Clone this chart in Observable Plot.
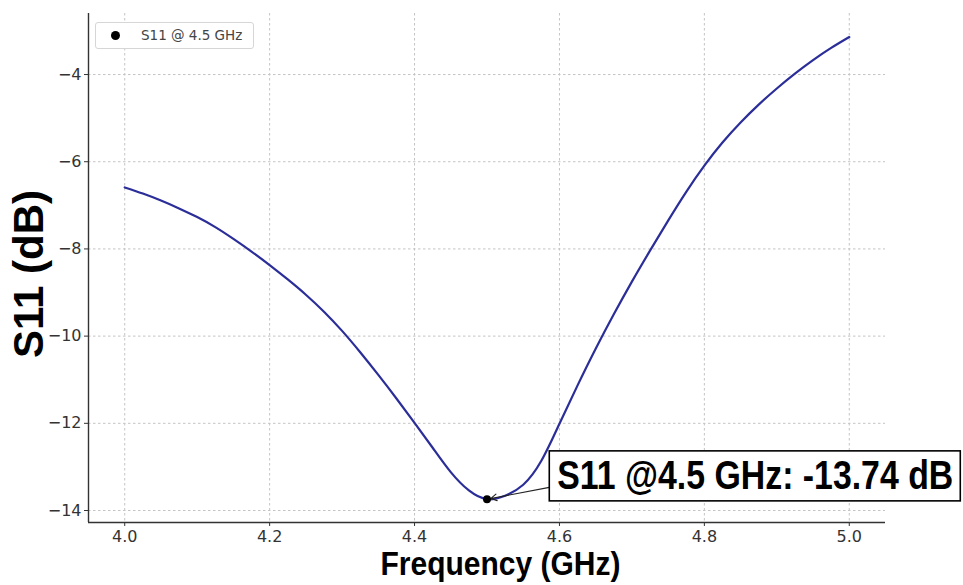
<!DOCTYPE html>
<html>
<head>
<meta charset="utf-8">
<script src="https://cdn.jsdelivr.net/npm/d3@7"></script>
<script src="https://cdn.jsdelivr.net/npm/@observablehq/plot@0.6"></script>
<style>
  body { margin: 0; background: #fff; }
  #wrap { position: relative; width: 963px; height: 585px; overflow: hidden; }
  #legend { position: absolute; left: 95px; top: 22px; width: 159px; height: 27px; box-sizing: border-box;
            border: 1px solid #d6d6d6; border-radius: 3px; background: #fff;
            font: 13.5px "DejaVu Sans", sans-serif; color: #444; }
  #legend .dot { position: absolute; left: 15px; top: 8px; width: 9px; height: 9px; border-radius: 50%; background: #000; }
  #legend .lab { position: absolute; left: 45px; top: 4px; white-space: nowrap; }
</style>
</head>
<body>
<div id="wrap">
  <div id="chart"></div>
  <div id="legend"><span class="dot"></span><span class="lab">S11 @ 4.5 GHz</span></div>
</div>
<script>
// ---- data ----
const freq = [4.000, 4.025, 4.050, 4.075, 4.100, 4.125, 4.150, 4.175, 4.200, 4.225,
              4.250, 4.275, 4.300, 4.325, 4.350, 4.375, 4.400, 4.425, 4.450, 4.475,
              4.500, 4.525, 4.550, 4.575, 4.600, 4.625, 4.650, 4.675, 4.700, 4.725,
              4.750, 4.775, 4.800, 4.825, 4.850, 4.875, 4.900, 4.925, 4.950, 4.975, 5.000];
const s11  = [-6.59, -6.73, -6.89, -7.07, -7.27, -7.50, -7.77, -8.06, -8.37, -8.70,
              -9.05, -9.44, -9.88, -10.37, -10.89, -11.43, -11.99, -12.56, -13.12, -13.54,
              -13.74, -13.66, -13.41, -12.86, -12.01, -11.13, -10.29, -9.50, -8.75, -8.04,
              -7.35, -6.69, -6.09, -5.56, -5.10, -4.69, -4.32, -3.98, -3.67, -3.39, -3.14];
const markerFreq = [4.5];
const markerS11  = [-13.74];
const annotText  = ["S11 @4.5 GHz: -13.74 dB"];
const annotTextX = [4.597];
const annotTextY = [-13.21];
const arrowFromX = [4.586];
const arrowFromY = [-13.47];
const xTicks = [4.0, 4.2, 4.4, 4.6, 4.8, 5.0];
const yTicks = [-14, -12, -10, -8, -6, -4];
const xDomain = [3.95, 5.05];
const yDomain = [-14.275, -2.6];
const xLabel = "Frequency (GHz)";
const yLabel = "S11 (dB)";

const curve = freq.map((f, i) => ({f, v: s11[i]}));
const marker = markerFreq.map((f, i) => ({f, v: markerS11[i]}));
const annot = annotText.map((t, i) => ({t, x: annotTextX[i], y: annotTextY[i],
  x1: arrowFromX[i], y1: arrowFromY[i], x2: markerFreq[i], y2: markerS11[i]}));

const minus = d => (d < 0 ? "\u2212" + Math.abs(d) : String(d));
const tickFont = "'DejaVu Sans', sans-serif";
const boldFont = "'Liberation Sans', Arial, sans-serif";

const plot = Plot.plot({
  width: 963, height: 585,
  marginLeft: 88, marginRight: 78, marginTop: 13, marginBottom: 63,
  style: {background: "#fff", overflow: "visible"},
  x: {domain: xDomain},
  y: {domain: yDomain},
  marks: [
    Plot.gridX(xTicks, {stroke: "#c4c4c4", strokeOpacity: 1, strokeDasharray: "2.5,2.5"}),
    Plot.gridY(yTicks, {stroke: "#c4c4c4", strokeOpacity: 1, strokeDasharray: "2.5,2.5"}),
    Plot.axisX(xTicks, {tickFormat: d => d.toFixed(1), tickSize: 4, tickPadding: 4, fontSize: 16,
      fontFamily: tickFont, color: "#333", label: null}),
    Plot.axisY(yTicks, {tickFormat: minus, tickSize: 4, tickPadding: 3, fontSize: 16,
      fontFamily: tickFont, color: "#333", label: null}),
    Plot.ruleX([xDomain[0]], {stroke: "#333", strokeWidth: 1.4}),
    Plot.ruleY([yDomain[0]], {stroke: "#333", strokeWidth: 1.4}),
    Plot.line(curve, {x: "f", y: "v", stroke: "#2b2e98", strokeWidth: 2.2, curve: "natural"}),
    Plot.arrow(annot, {x1: "x1", y1: "y1", x2: "x2", y2: "y2", stroke: "#222", strokeWidth: 1.1,
      headLength: 9, insetEnd: 4, bend: 0}),
    Plot.dot(marker, {x: "f", y: "v", r: 4, fill: "#000"}),
    Plot.text(annot, {x: "x", y: "y", text: "t", textAnchor: "start", lineAnchor: "middle", fontSize: 40,
      fontWeight: "bold", fontFamily: boldFont, fill: "#000"}),
    Plot.text([xLabel], {frameAnchor: "bottom", textAnchor: "middle", lineAnchor: "middle", dy: 42, dx: 13.5,
      fontSize: 34, fontWeight: "bold", fontFamily: boldFont, fill: "#000"}),
    Plot.text([yLabel], {frameAnchor: "left", textAnchor: "middle", lineAnchor: "middle", rotate: -90,
      dx: -59, dy: 6, fontSize: 42, fontWeight: "bold", fontFamily: boldFont, fill: "#000"})
  ]
});
document.getElementById("chart").appendChild(plot);

// condense the wide bold texts and frame the annotation
const svg = d3.select(plot);
svg.selectAll("text").each(function() {
  const s = this.textContent;
  if (s === annotText[0]) {
    this.setAttribute("textLength", 396);
    this.setAttribute("lengthAdjust", "spacingAndGlyphs");
    const bb = this.getBBox();
    const r = document.createElementNS("http://www.w3.org/2000/svg", "rect");
    r.setAttribute("x", bb.x - 8);
    r.setAttribute("y", bb.y - 2);
    r.setAttribute("width", bb.width + 15);
    r.setAttribute("height", bb.height + 6);
    r.setAttribute("fill", "#fff");
    r.setAttribute("stroke", "#000");
    r.setAttribute("stroke-width", 1.6);
    const tr = this.getAttribute("transform");
    if (tr) r.setAttribute("transform", tr);
    this.parentNode.insertBefore(r, this);
  } else if (s === xLabel) {
    this.setAttribute("textLength", 240);
    this.setAttribute("lengthAdjust", "spacingAndGlyphs");
  }
});
</script>
</body>
</html>
